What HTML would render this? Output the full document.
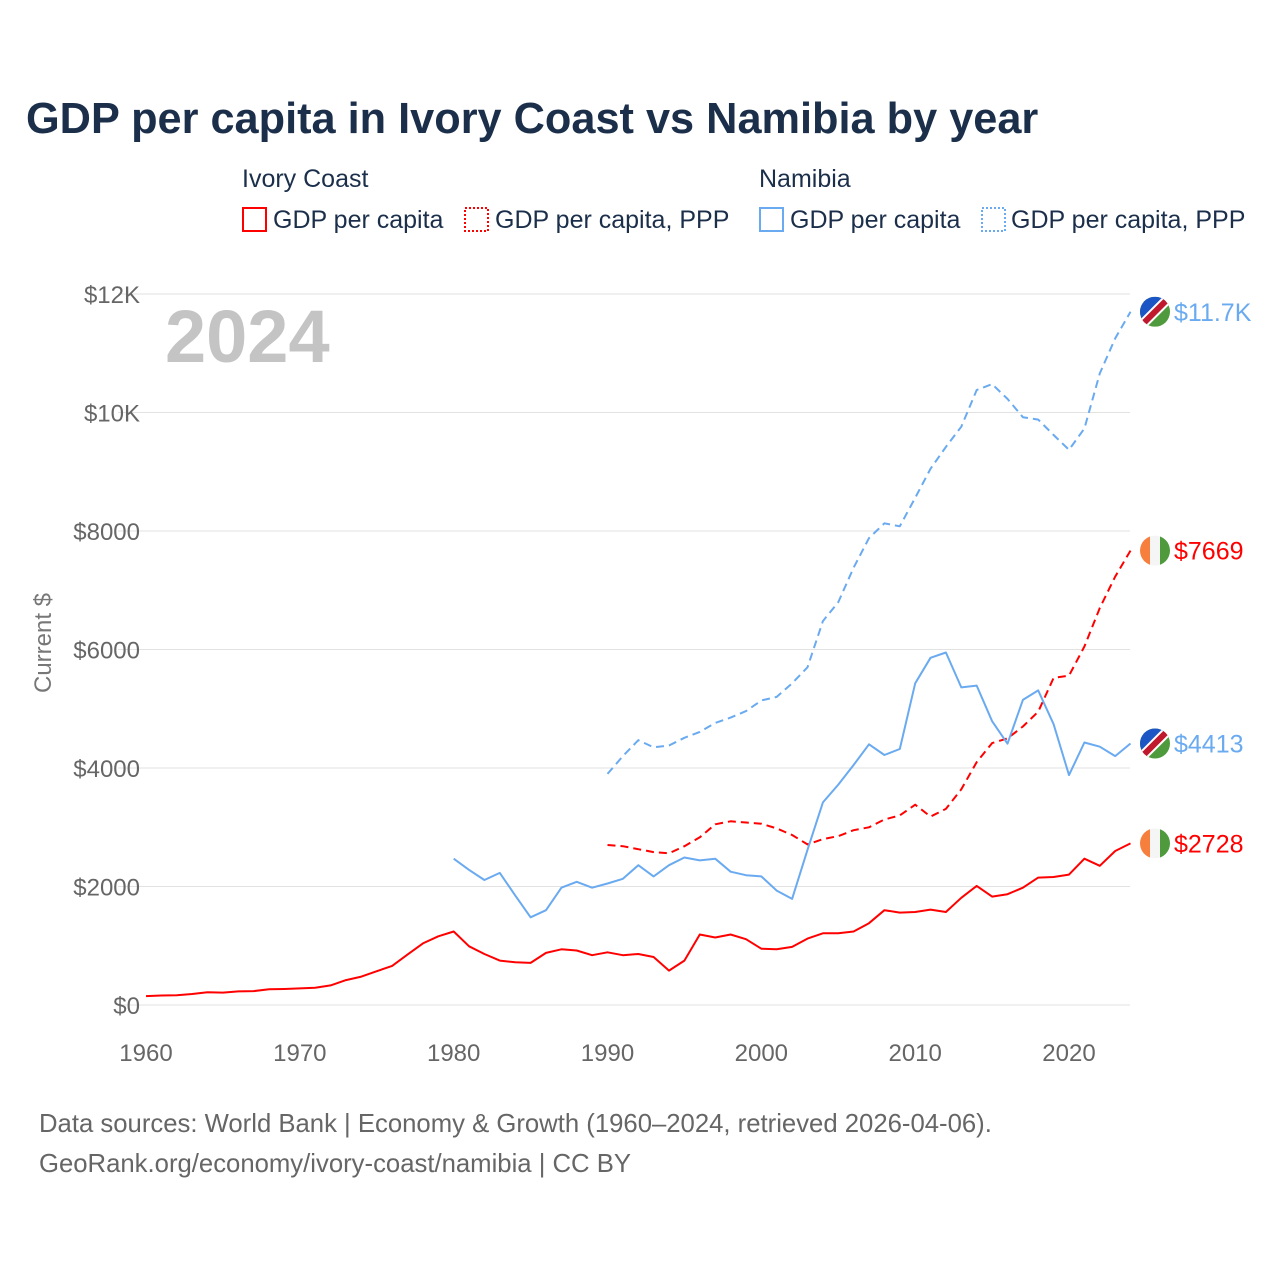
<!DOCTYPE html>
<html><head><meta charset="utf-8"><style>
body{margin:0;background:#fff;font-family:"Liberation Sans",sans-serif}
svg text{font-family:"Liberation Sans",sans-serif}
</style></head><body>
<svg id="c" width="1280" height="1280" xmlns="http://www.w3.org/2000/svg">
<defs><clipPath id="cc"><circle cx="0" cy="0" r="15"/></clipPath></defs>
<text x="26" y="133" font-size="43.3" font-weight="bold" fill="#1b2f4b">GDP per capita in Ivory Coast vs Namibia by year</text>
<g font-size="25" fill="#1b2f4b">
<text x="242" y="187">Ivory Coast</text>
<text x="759" y="187">Namibia</text>
<rect x="243" y="208" width="23" height="23" fill="none" stroke="#f00" stroke-width="2"/>
<text x="273" y="228">GDP per capita</text>
<rect x="465" y="208" width="23" height="23" fill="none" stroke="#f00" stroke-width="2" stroke-dasharray="2 2"/>
<text x="495" y="228">GDP per capita, PPP</text>
<rect x="760" y="208" width="23" height="23" fill="none" stroke="#6aaaf0" stroke-width="2"/>
<text x="790" y="228">GDP per capita</text>
<rect x="982" y="208" width="23" height="23" fill="none" stroke="#6aaaf0" stroke-width="2" stroke-dasharray="2 2"/>
<text x="1011" y="228">GDP per capita, PPP</text>
</g>
<text x="165" y="362" font-size="74" font-weight="bold" fill="#c4c4c4">2024</text>
<text transform="translate(51,643) rotate(-90)" text-anchor="middle" font-size="24" fill="#777">Current $</text>
<g id="grid"></g><g id="lines"></g><g id="ends"></g>
<text x="39" y="1132" font-size="25.7" fill="#666">Data sources: World Bank | Economy &amp; Growth (1960–2024, retrieved 2026-04-06).</text>
<text x="39" y="1172" font-size="25.7" fill="#666">GeoRank.org/economy/ivory-coast/namibia | CC BY</text>
</svg>
<script>
const yTicks=[0,2000,4000,6000,8000,10000,12000];
const yTickLabels=["$0","$2000","$4000","$6000","$8000","$10K","$12K"];
const xTicks=[1960,1970,1980,1990,2000,2010,2020];
const icGdp=[150,160,165,185,215,210,230,235,265,270,280,290,330,420,480,570,660,850,1040,1160,1240,990,860,750,720,710,880,940,920,840,890,840,860,810,580,750,1190,1140,1190,1110,950,940,980,1120,1210,1210,1240,1380,1600,1560,1570,1610,1570,1810,2010,1830,1870,1980,2150,2160,2200,2470,2350,2600,2728];
const icPpp=[2700,2680,2630,2580,2560,2680,2830,3050,3100,3080,3060,2980,2870,2710,2800,2850,2950,3000,3130,3200,3380,3180,3310,3640,4100,4420,4500,4700,4950,5520,5560,6050,6700,7230,7669];
const naGdp=[2470,2280,2110,2230,1850,1480,1600,1980,2080,1980,2050,2130,2360,2170,2360,2490,2440,2470,2250,2190,2170,1930,1790,2620,3420,3720,4050,4400,4220,4320,5430,5860,5950,5360,5390,4790,4410,5150,5310,4740,3880,4430,4360,4200,4413];
const naPpp=[3900,4200,4470,4350,4380,4510,4610,4760,4850,4960,5140,5200,5430,5700,6480,6800,7380,7880,8130,8080,8560,9050,9420,9760,10380,10480,10230,9920,9880,9620,9370,9730,10660,11250,11700];
const endLabels=["$2728","$7669","$4413","$11.7K"];
const NS="http://www.w3.org/2000/svg";
const X=yr=>146+(yr-1960)*(1069-146)/60;
const Y=v=>1005-v*(1005-294)/12000;
function mk(t,a,p){const e=document.createElementNS(NS,t);for(const k in a)e.setAttribute(k,a[k]);p.appendChild(e);return e;}
const grid=document.getElementById('grid');
yTicks.forEach((v,i)=>{
 const l=mk('line',{x1:118,x2:1130,y1:Y(v),y2:Y(v),stroke:'#e2e2e2','stroke-width':1},grid);
 
 
 const t=mk('text',{x:140,y:Y(v)+9,'text-anchor':'end','font-size':24,fill:'#666'},grid);
 t.textContent=yTickLabels[i];
 
 
});
xTicks.forEach(yr=>{
 const t=mk('text',{x:X(yr),y:1061,'text-anchor':'middle','font-size':24,fill:'#666'},grid);
 t.textContent=yr;
 
 
});
const lines=document.getElementById('lines');
const series=[[icGdp,1960,'#f00',null,'line-ic-gdp'],[icPpp,1990,'#f00','8 5','line-ic-ppp'],[naGdp,1980,'#6aaaf0',null,'line-na-gdp'],[naPpp,1990,'#6aaaf0','8 5','line-na-ppp']];
const ends=document.getElementById('ends');
series.forEach((s,i)=>{
 const [d,start,col,dash,name]=s;
 const pts=d.map((v,j)=>X(start+j).toFixed(1)+','+Y(v).toFixed(1)).join(' ');
 const a={points:pts,fill:'none',stroke:col,'stroke-width':2,'stroke-linejoin':'round'};
 if(dash)a['stroke-dasharray']=dash;
 const p=mk('polyline',a,lines);
 
 
 const last=d[d.length-1],y=Y(last);
 const g=mk('g',{transform:`translate(1155,${y})`},ends);
 
 
 const gc=mk('g',{'clip-path':'url(#cc)'},g);
 if(i<2){
  mk('rect',{x:-15,y:-15,width:10,height:30,fill:'#f77f3e'},gc);
  mk('rect',{x:-5,y:-15,width:10,height:30,fill:'#f5f5f5'},gc);
  mk('rect',{x:5,y:-15,width:10,height:30,fill:'#4e9a3c'},gc);
 }else{
  mk('rect',{x:-15,y:-15,width:30,height:30,fill:'#4e9a3c'},gc);
  mk('path',{d:'M-15,-15 L15,-15 L-15,15 Z',fill:'#1b56c4'},gc);
  mk('line',{x1:-15,y1:15,x2:15,y2:-15,stroke:'#fff','stroke-width':10},gc);
  mk('line',{x1:-15,y1:15,x2:15,y2:-15,stroke:'#c0182c','stroke-width':6},gc);
 }
 const t=mk('text',{x:1174,y:y+9,'font-size':25,fill:col},ends);
 t.textContent=endLabels[i];
 
 
});
</script>
</body></html>
